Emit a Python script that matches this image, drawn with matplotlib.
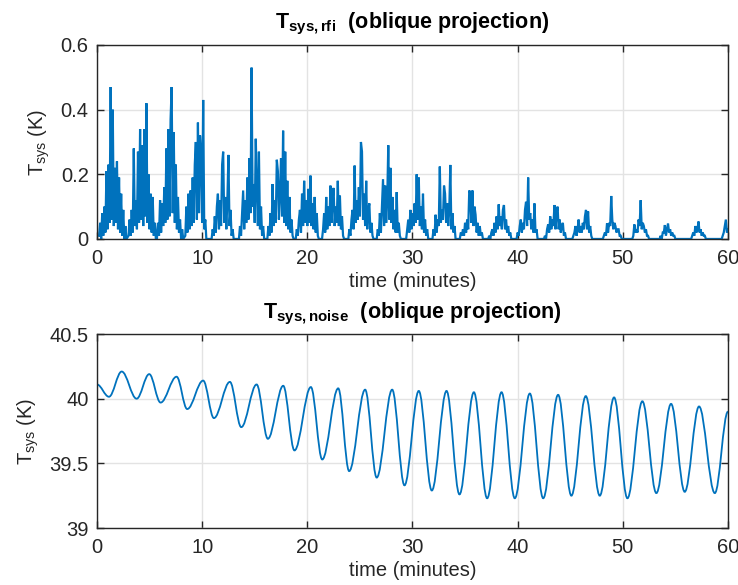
import numpy as np
import matplotlib
matplotlib.use("Agg")
from matplotlib import pyplot as plt
from matplotlib.path import Path
from matplotlib.patches import PathPatch

plt.rcParams["font.family"] = ["Liberation Sans", "DejaVu Sans"]
plt.rcParams["mathtext.fontset"] = "custom"
plt.rcParams["mathtext.rm"] = "Liberation Sans"
plt.rcParams["mathtext.it"] = "Liberation Sans"
plt.rcParams["mathtext.bf"] = "Liberation Sans:bold"

# rfi bursts: start minute of each burst, samples every 0.1 minute
burst_start = [0.2, 3.0, 5.7, 8.4, 10.9, 13.5, 16.2, 18.9, 21.4, 23.9, 26.6, 29.4,
               31.9, 34.5, 37.2, 39.9, 42.5, 45.2, 48.1, 50.9, 53.5, 56.5, 59.4]
burst_k = [
    [0.01, 0.05, 0.00, 0.08, 0.01, 0.10, 0.02, 0.21, 0.03, 0.23, 0.05, 0.47, 0.06, 0.40,
     0.04, 0.22, 0.05, 0.24, 0.03, 0.19, 0.02, 0.14, 0.01, 0.09, 0.00, 0.04, 0.00],
    [0.01, 0.06, 0.01, 0.09, 0.02, 0.28, 0.04, 0.12, 0.03, 0.27, 0.05, 0.34, 0.06, 0.29,
     0.04, 0.34, 0.07, 0.42, 0.05, 0.20, 0.03, 0.14, 0.02, 0.13, 0.01, 0.05, 0.00],
    [0.00, 0.05, 0.01, 0.12, 0.02, 0.11, 0.04, 0.16, 0.05, 0.28, 0.06, 0.34, 0.07, 0.37,
     0.47, 0.08, 0.33, 0.05, 0.23, 0.03, 0.13, 0.02, 0.06, 0.00, 0.03, 0.00],
    [0.01, 0.10, 0.02, 0.14, 0.03, 0.15, 0.04, 0.19, 0.05, 0.23, 0.30, 0.06, 0.36, 0.08,
     0.32, 0.27, 0.05, 0.43, 0.03, 0.06, 0.00],
    [0.00, 0.03, 0.01, 0.07, 0.02, 0.10, 0.14, 0.03, 0.12, 0.04, 0.23, 0.27, 0.05, 0.13,
     0.03, 0.12, 0.26, 0.04, 0.09, 0.01, 0.03, 0.00],
    [0.00, 0.04, 0.01, 0.08, 0.15, 0.03, 0.12, 0.05, 0.19, 0.06, 0.25, 0.08, 0.53, 0.10,
     0.17, 0.05, 0.31, 0.16, 0.04, 0.27, 0.03, 0.10, 0.01, 0.04, 0.00],
    [0.00, 0.04, 0.01, 0.08, 0.02, 0.17, 0.04, 0.12, 0.05, 0.245, 0.21, 0.06, 0.14, 0.25,
     0.07, 0.335, 0.05, 0.27, 0.04, 0.18, 0.03, 0.13, 0.02, 0.06, 0.01, 0.00],
    [0.00, 0.03, 0.01, 0.06, 0.09, 0.02, 0.14, 0.04, 0.18, 0.05, 0.12, 0.04, 0.155, 0.05,
     0.196, 0.04, 0.11, 0.03, 0.13, 0.02, 0.08, 0.01, 0.00],
    [0.00, 0.03, 0.08, 0.02, 0.13, 0.03, 0.10, 0.04, 0.165, 0.05, 0.12, 0.158, 0.04, 0.10,
     0.05, 0.18, 0.04, 0.134, 0.03, 0.07, 0.01, 0.00],
    [0.00, 0.03, 0.01, 0.06, 0.09, 0.03, 0.227, 0.05, 0.12, 0.06, 0.16, 0.07, 0.30, 0.27,
     0.06, 0.14, 0.04, 0.18, 0.03, 0.09, 0.11, 0.02, 0.05, 0.01, 0.00],
    [0.00, 0.03, 0.01, 0.08, 0.02, 0.10, 0.185, 0.04, 0.165, 0.05, 0.12, 0.29, 0.06, 0.22,
     0.05, 0.13, 0.03, 0.09, 0.02, 0.145, 0.02, 0.05, 0.01, 0.00],
    [0.00, 0.03, 0.06, 0.02, 0.09, 0.03, 0.08, 0.04, 0.11, 0.05, 0.20, 0.06, 0.19, 0.04,
     0.10, 0.03, 0.14, 0.02, 0.06, 0.01, 0.03, 0.00],
    [0.00, 0.03, 0.01, 0.075, 0.02, 0.06, 0.04, 0.224, 0.05, 0.09, 0.06, 0.165, 0.14, 0.05,
     0.11, 0.04, 0.09, 0.229, 0.03, 0.08, 0.02, 0.04, 0.00],
    [0.00, 0.02, 0.01, 0.03, 0.01, 0.05, 0.02, 0.06, 0.03, 0.15, 0.14, 0.05, 0.15, 0.04,
     0.10, 0.075, 0.02, 0.05, 0.01, 0.04, 0.01, 0.02, 0.00],
    [0.00, 0.01, 0.00, 0.02, 0.03, 0.01, 0.05, 0.02, 0.07, 0.03, 0.107, 0.04, 0.07, 0.03,
     0.09, 0.105, 0.03, 0.06, 0.02, 0.04, 0.01, 0.02, 0.00],
    [0.00, 0.02, 0.01, 0.04, 0.06, 0.02, 0.05, 0.03, 0.09, 0.115, 0.04, 0.19, 0.06, 0.08,
     0.03, 0.06, 0.02, 0.11, 0.02, 0.03, 0.00],
    [0.00, 0.01, 0.00, 0.03, 0.045, 0.02, 0.07, 0.03, 0.06, 0.04, 0.105, 0.03, 0.08, 0.10,
     0.03, 0.06, 0.02, 0.04, 0.05, 0.01, 0.02, 0.00],
    [0.00, 0.01, 0.02, 0.04, 0.01, 0.03, 0.06, 0.02, 0.04, 0.02, 0.05, 0.03, 0.07, 0.09,
     0.03, 0.085, 0.02, 0.04, 0.01, 0.00],
    [0.00, 0.01, 0.02, 0.01, 0.048, 0.02, 0.05, 0.04, 0.133, 0.06, 0.03, 0.05, 0.04, 0.02,
     0.03, 0.03, 0.01, 0.01, 0.00],
    [0.00, 0.01, 0.045, 0.02, 0.03, 0.02, 0.06, 0.04, 0.12, 0.03, 0.05, 0.04, 0.02, 0.03,
     0.01, 0.01, 0.00],
    [0.00, 0.01, 0.00, 0.02, 0.02, 0.043, 0.01, 0.03, 0.048, 0.02, 0.03, 0.01, 0.02, 0.01,
     0.01, 0.00],
    [0.00, 0.01, 0.02, 0.01, 0.04, 0.02, 0.03, 0.054, 0.02, 0.03, 0.01, 0.02, 0.01, 0.01,
     0.00],
    [0.00, 0.01, 0.02, 0.04, 0.06, 0.02, 0.03],
]

# noise temperature: turning points of the oscillation (minutes, K)
noise_t = [0, 1.14, 2.35, 3.77, 4.97, 6.05, 7.57, 8.58, 10.1, 11.12, 12.64, 13.72,
           15.18, 16.25, 17.71, 18.78, 20.34, 21.42, 22.94, 23.98, 25.5, 26.6, 28.07,
           29.24, 30.6, 31.84, 33.24, 34.47, 35.84, 37.1, 38.47, 39.73, 41.16, 42.43,
           43.85, 45.11, 46.48, 47.81, 49.17, 50.44, 51.86, 53.19, 54.59, 55.89, 57.25,
           58.75, 60]
noise_k = [40.11, 40.015, 40.21, 40.0, 40.19, 39.97, 40.17, 39.92, 40.14, 39.85, 40.13,
           39.78, 40.11, 39.69, 40.10, 39.60, 40.09, 39.53, 40.08, 39.44, 40.07, 39.39,
           40.07, 39.33, 40.06, 39.29, 40.06, 39.26, 40.05, 39.23, 40.05, 39.23, 40.04,
           39.23, 40.03, 39.25, 40.02, 39.25, 40.01, 39.23, 39.98, 39.27, 39.96, 39.28,
           39.94, 39.27, 39.90]

blue = "#0072BD"
dark = "#262626"

rfi_t, rfi_k = [], []
for start, vals in zip(burst_start, burst_k):
    rfi_t.extend(start + 0.1 * np.arange(len(vals)))
    rfi_k.extend(vals)

fig = plt.figure(figsize=(7.38, 5.85), dpi=100)
ax1 = fig.add_axes([0.1314, 0.5915, 0.855, 0.3316])
ax2 = fig.add_axes([0.1314, 0.0974, 0.855, 0.3316])

ax1.plot(rfi_t, rfi_k, color=blue, linewidth=1.6, solid_joinstyle="miter")

# smooth curve through the turning points (flat tangent at each)
verts = [(noise_t[0], noise_k[0])]
codes = [Path.MOVETO]
for i in range(1, len(noise_t)):
    t0, v0 = noise_t[i - 1], noise_k[i - 1]
    t1, v1 = noise_t[i], noise_k[i]
    d = 0.3642 * (t1 - t0)
    verts += [(t0 + d, v0), (t1 - d, v1), (t1, v1)]
    codes += [Path.CURVE4] * 3
ax2.add_patch(PathPatch(Path(verts, codes), fill=False, edgecolor=blue, linewidth=1.3))

fs = 14.5
for ax in (ax1, ax2):
    ax.set_xlim(0, 60)
    ax.set_xticks(range(0, 61, 10))
    ax.grid(True, color="#e3e3e3", linewidth=1.0)
    ax.set_axisbelow(True)
    ax.tick_params(direction="in", top=True, right=True, length=5, width=1.0,
                   color=dark, labelcolor=dark, labelsize=fs)
    ax.tick_params(axis="x", pad=7)
    ax.tick_params(axis="y", pad=6)
    for s in ax.spines.values():
        s.set_color(dark)
        s.set_linewidth(1.0)
    ax.set_xlabel("time (minutes)", fontsize=fs, color=dark, labelpad=3)
    ax.set_ylabel(r"$\mathrm{T_{sys}}$ (K)", fontsize=fs, color=dark, labelpad=6)

ax1.set_ylim(0, 0.6)
ax1.set_yticks([0, 0.2, 0.4, 0.6])
ax1.set_yticklabels(["0", "0.2", "0.4", "0.6"])
ax2.set_ylim(39, 40.5)
ax2.set_yticks([39, 39.5, 40, 40.5])
ax2.set_yticklabels(["39", "39.5", "40", "40.5"])

ax1.set_title(r"$\mathbf{T_{sys,rfi}}$  (oblique projection)", fontsize=fs + 1,
              fontweight="bold", color="black", pad=12)
ax2.set_title(r"$\mathbf{T_{sys,noise}}$  (oblique projection)", fontsize=fs + 1,
              fontweight="bold", color="black", pad=11)

fig.savefig("out.png", dpi=100)
